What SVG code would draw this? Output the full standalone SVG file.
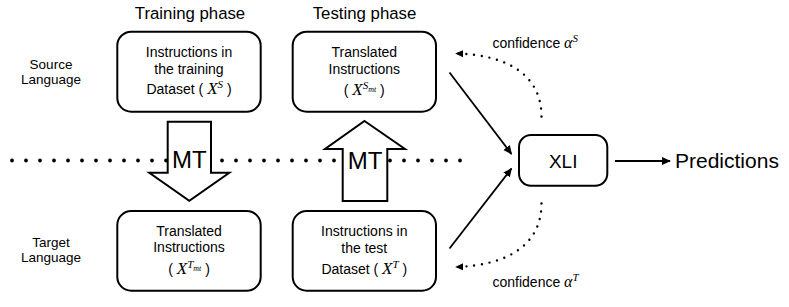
<svg xmlns="http://www.w3.org/2000/svg" width="789" height="307" viewBox="0 0 789 307">
<style>
  .t { font-family: "Liberation Sans", Arial, Helvetica, sans-serif; fill: #000; }
  .m { font-family: "Liberation Serif", "Times New Roman", serif; font-style: italic; }
  .box { fill: #fff; stroke: #000; stroke-width: 2; }
  .big { fill: #fff; stroke: #000; stroke-width: 2; stroke-linejoin: miter; }
  .line { stroke: #000; stroke-width: 1.8; fill: none; }
  .dots { stroke: #000; stroke-width: 2.4; stroke-linecap: round; stroke-dasharray: 0 7.8; fill: none; }
  .sep { stroke: #000; stroke-width: 3.8; stroke-linecap: round; stroke-dasharray: 0 14; fill: none; }
</style>
<defs>
  <marker id="ah" viewBox="0 0 10 10" refX="9" refY="5" markerWidth="9" markerHeight="9" markerUnits="userSpaceOnUse" orient="auto">
    <path d="M0,0.5 L10,5 L0,9.5 z" fill="#000"/>
  </marker>
  <marker id="ahd" viewBox="0 0 10 10" refX="9" refY="5" markerWidth="8" markerHeight="8" markerUnits="userSpaceOnUse" orient="auto">
    <path d="M0,0.5 L10,5 L0,9.5 z" fill="#000"/>
  </marker>
</defs>

<!-- headers and side labels -->
<g id="headers">
  <text class="t" x="190" y="19" font-size="16.8" text-anchor="middle">Training phase</text>
  <text class="t" x="364.5" y="19" font-size="16.8" text-anchor="middle">Testing phase</text>
  <text class="t" x="51" y="69" font-size="13.5" text-anchor="middle">Source</text>
  <text class="t" x="51" y="84" font-size="13.5" text-anchor="middle">Language</text>
  <text class="t" x="51" y="247" font-size="13.5" text-anchor="middle">Target</text>
  <text class="t" x="51" y="262" font-size="13.5" text-anchor="middle">Language</text>
</g>

<!-- horizontal dotted separator -->
<g id="separator">
  <path class="sep" d="M12,160.5 L462,160.5"/>
</g>

<!-- connectors -->
<g id="connectors">
  <path class="line" d="M449.5,72.5 L511.5,154" marker-end="url(#ah)"/>
  <path class="line" d="M449.5,248.5 L511.5,168.5" marker-end="url(#ah)"/>
  <path class="line" d="M615,161 L670,161" marker-end="url(#ah)"/>
  <path class="dots" d="M541.5,116.5 C541.5,78 512,55 456,53.5" marker-end="url(#ahd)"/>
  <path class="dots" d="M541.5,203.5 C541.5,242 512,265 456,267" marker-end="url(#ahd)"/>
  <text class="t" x="492.5" y="48" font-size="14">confidence <tspan class="m" font-size="16">α</tspan><tspan class="m" font-size="11" dy="-6">S</tspan></text>
  <text class="t" x="492.5" y="287" font-size="14">confidence <tspan class="m" font-size="16">α</tspan><tspan class="m" font-size="11" dy="-6">T</tspan></text>
</g>

<!-- MT arrows -->
<g id="mt-down">
  <polygon class="big" points="167.7,121.7 211,121.7 211,172.7 229.3,172.7 189.3,200.7 149.3,172.7 167.7,172.7"/>
  <text class="t" x="189.3" y="168" font-size="24" text-anchor="middle">MT</text>
</g>
<g id="mt-up">
  <polygon class="big" points="364.5,121 405,149 387.3,149 387.3,201 342.7,201 342.7,149 325,149"/>
  <text class="t" x="365" y="169" font-size="24" text-anchor="middle">MT</text>
</g>

<!-- nodes -->
<g id="train-source">
  <rect class="box" x="117.3" y="31.7" width="143.4" height="80" rx="14"/>
  <text class="t" x="189" y="57.3" font-size="14" text-anchor="middle">Instructions in</text>
  <text class="t" x="189" y="73.5" font-size="14" text-anchor="middle">the training</text>
  <text class="t" x="189" y="94.3" font-size="14" text-anchor="middle">Dataset ( <tspan class="m" font-size="17">X</tspan><tspan class="m" font-size="11" dy="-6.5">S</tspan><tspan dy="6.5"> )</tspan></text>
</g>
<g id="test-source">
  <rect class="box" x="292.7" y="31.7" width="143.3" height="80" rx="14"/>
  <text class="t" x="364.3" y="57.3" font-size="14" text-anchor="middle">Translated</text>
  <text class="t" x="364.3" y="73.5" font-size="14" text-anchor="middle">Instructions</text>
  <text class="t" x="364.3" y="95" font-size="14" text-anchor="middle">( <tspan class="m" font-size="17">X</tspan><tspan class="m" font-size="11" dy="-6.5">S</tspan><tspan class="m" font-size="8" dy="3">mt</tspan><tspan dy="3.5"> )</tspan></text>
</g>
<g id="train-target">
  <rect class="box" x="117.3" y="211" width="143.4" height="79.7" rx="14"/>
  <text class="t" x="189" y="236.3" font-size="14" text-anchor="middle">Translated</text>
  <text class="t" x="189" y="252" font-size="14" text-anchor="middle">Instructions</text>
  <text class="t" x="189" y="274" font-size="14" text-anchor="middle">( <tspan class="m" font-size="17">X</tspan><tspan class="m" font-size="11" dy="-6.5">T</tspan><tspan class="m" font-size="8" dy="3">mt</tspan><tspan dy="3.5"> )</tspan></text>
</g>
<g id="test-target">
  <rect class="box" x="292.7" y="211" width="143.3" height="79.7" rx="14"/>
  <text class="t" x="364.3" y="236.3" font-size="14" text-anchor="middle">Instructions in</text>
  <text class="t" x="364.3" y="252.5" font-size="14" text-anchor="middle">the test</text>
  <text class="t" x="364.3" y="274" font-size="14" text-anchor="middle">Dataset ( <tspan class="m" font-size="17">X</tspan><tspan class="m" font-size="11" dy="-6.5">T</tspan><tspan dy="6.5"> )</tspan></text>
</g>
<g id="xli">
  <rect class="box" x="519" y="135" width="88.3" height="50.7" rx="12"/>
  <text class="t" x="563.2" y="168" font-size="19" text-anchor="middle">XLI</text>
</g>
<g id="predictions">
  <text class="t" x="675" y="168" font-size="21">Predictions</text>
</g>
</svg>
